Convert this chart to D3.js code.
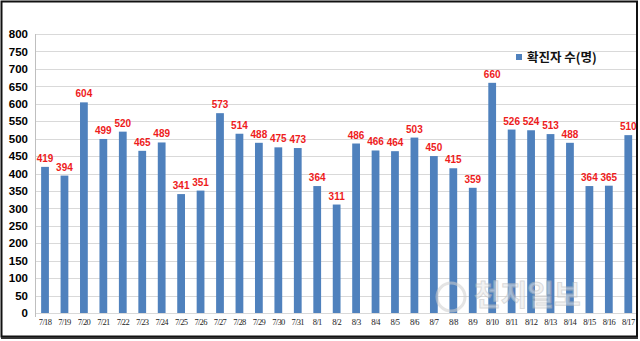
<!DOCTYPE html>
<html><head><meta charset="utf-8">
<script src="https://cdn.jsdelivr.net/npm/d3@7"></script>
<style>body{margin:0;background:#fff}svg{display:block}</style>
</head><body>
<svg id="c" width="640" height="341"></svg>
<script>
const categories = ["7/18","7/19","7/20","7/21","7/22","7/23","7/24","7/25","7/26","7/27","7/28","7/29","7/30","7/31","8/1","8/2","8/3","8/4","8/5","8/6","8/7","8/8","8/9","8/10","8/11","8/12","8/13","8/14","8/15","8/16","8/17"];
const values = [419,394,604,499,520,465,489,341,351,573,514,488,475,473,364,311,486,466,464,503,450,415,359,660,526,524,513,488,364,365,510];
const yTicks = [0,50,100,150,200,250,300,350,400,450,500,550,600,650,700,750,800];
const seriesName = "확진자 수(명)";
const watermark = "천지일보";

const svg = d3.select("#c");
const x = d3.scaleBand().domain(categories).range([35.3, 638]).paddingInner(0.6).paddingOuter(0.3);
const y = d3.scaleLinear().domain([0, 800]).range([313, 34]);

// gridlines
svg.append("g").selectAll("line").data(yTicks).join("line")
  .attr("x1", 35).attr("x2", 638)
  .attr("y1", d => Math.round(y(d)) + 0.5).attr("y2", d => Math.round(y(d)) + 0.5)
  .attr("stroke", "#d9d9d9").attr("stroke-width", 1);

// y axis line
svg.append("line").attr("x1", 35.5).attr("x2", 35.5).attr("y1", 34).attr("y2", 317)
  .attr("stroke", "#bfbfbf");

// bars
svg.append("g").selectAll("rect").data(values).join("rect")
  .attr("x", (d, i) => x(categories[i]))
  .attr("width", x.bandwidth())
  .attr("y", d => y(d))
  .attr("height", d => y(0) - y(d))
  .attr("fill", "#4f81bd");

// value labels
svg.append("g").selectAll("text").data(values).join("text")
  .attr("x", (d, i) => x(categories[i]) + x.bandwidth() / 2)
  .attr("y", d => y(d) - 5)
  .attr("text-anchor", "middle")
  .attr("font-family", "Liberation Sans, Arial, sans-serif")
  .attr("font-weight", "bold").attr("font-size", 10)
  .attr("fill", "#ee1c1c")
  .text(d => d);

// y axis labels
const yAxis = d3.axisLeft(y).tickValues(yTicks).tickSize(0).tickPadding(7);
const gy = svg.append("g").attr("transform", "translate(35,0)").call(yAxis);
gy.select(".domain").remove();
gy.selectAll("text").attr("font-family", "Liberation Sans, Arial, sans-serif")
  .attr("font-weight", "bold").attr("font-size", 11.5).attr("fill", "#000");

// x axis labels
const xAxis = d3.axisBottom(x).tickSize(0).tickPadding(6);
const gx = svg.append("g").attr("transform", "translate(0,313)").call(xAxis);
gx.select(".domain").remove();
gx.selectAll("text").attr("font-family", "Liberation Serif, serif")
  .attr("font-size", 8.5).attr("fill", "#222").attr("letter-spacing", -0.7);

// legend
svg.append("rect").attr("x", 516).attr("y", 54).attr("width", 6).attr("height", 6).attr("fill", "#4f81bd");
svg.append("text").attr("x", 527).attr("y", 62)
  .attr("font-family", "Noto Sans CJK KR, sans-serif").attr("font-weight", "bold")
  .attr("font-size", 12.5).attr("fill", "#111").text(seriesName);

// watermark
const wm = svg.append("g").attr("opacity", 0.55);
wm.append("circle").attr("cx", 451).attr("cy", 297).attr("r", 14)
  .attr("fill", "none").attr("stroke", "#cfcfcf").attr("stroke-width", 3);
wm.append("text").attr("x", 474).attr("y", 306)
  .attr("font-family", "Noto Sans CJK KR, sans-serif").attr("font-weight", "bold")
  .attr("font-size", 29).attr("fill", "#e8e8e8").attr("stroke", "#bdbdbd").attr("stroke-width", 1)
  .text(watermark);

// frame
svg.append("rect").attr("x", 1.5).attr("y", 1.5).attr("width", 635.5).attr("height", 335)
  .attr("fill", "none").attr("stroke", "#111").attr("stroke-width", 2);
svg.append("line").attr("x1", 1).attr("x2", 638).attr("y1", 338).attr("y2", 338)
  .attr("stroke", "#333").attr("stroke-width", 2);
</script>
</body></html>
